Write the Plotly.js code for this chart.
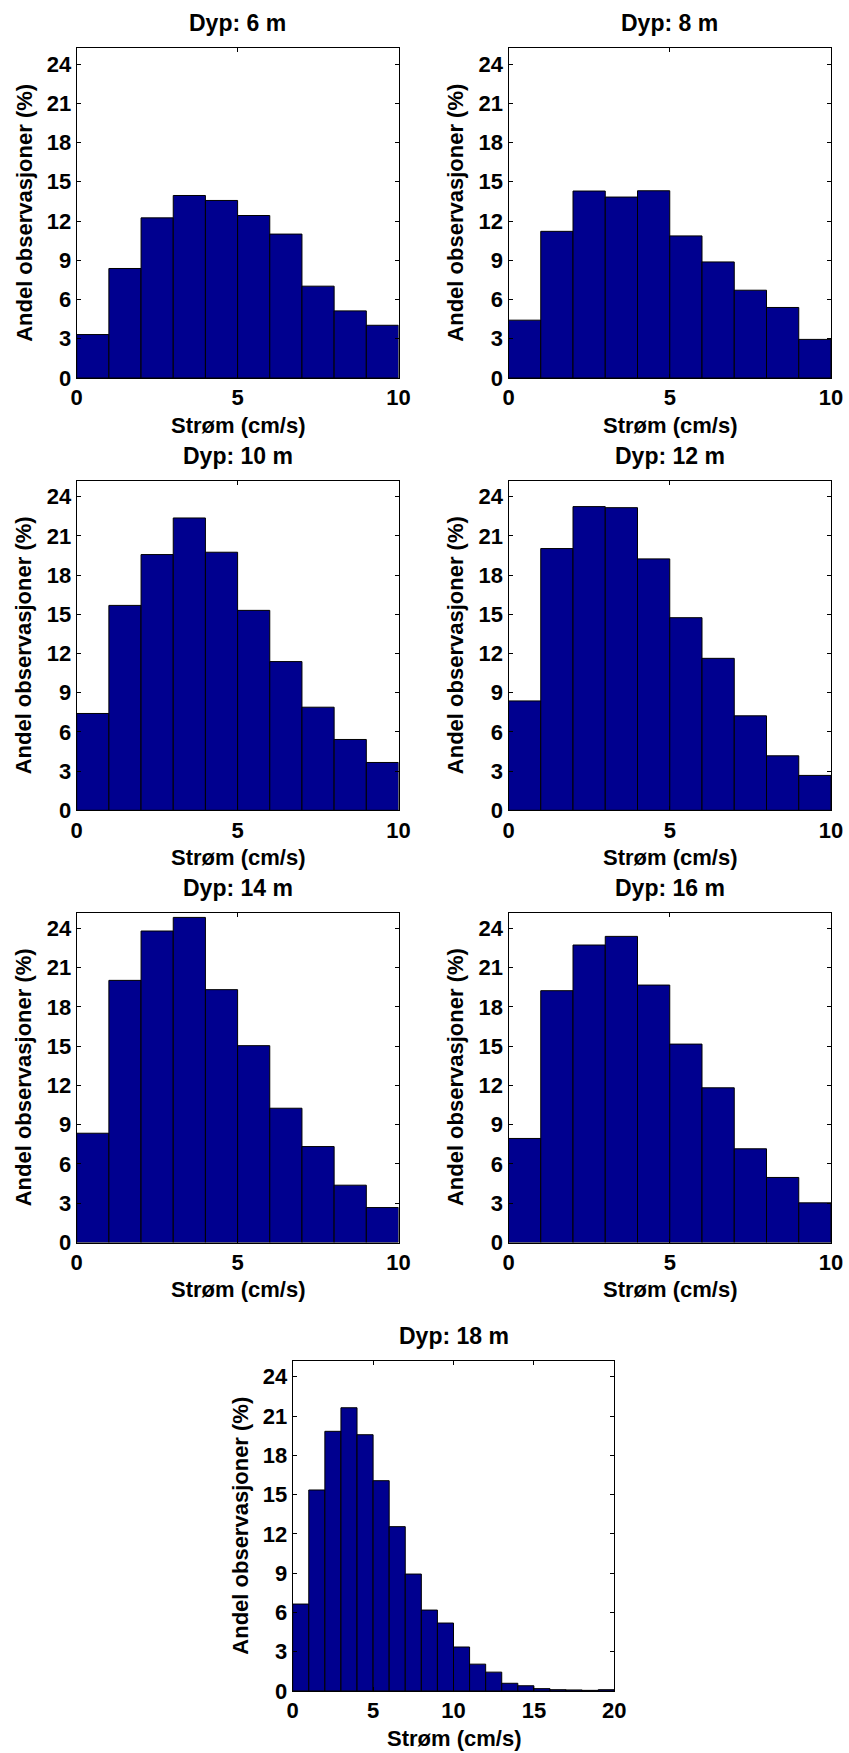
<!DOCTYPE html>
<html>
<head>
<meta charset="utf-8">
<script src="https://cdn.plot.ly/plotly-3.0.1.min.js"></script>
<style>
  html, body { margin: 0; padding: 0; background: #ffffff; }
  #chart { width: 849px; height: 1753px; }
</style>
</head>
<body>
<div id="chart"></div>
<script>
// ---- data ----
const binCenters10 = [0.5, 1.5, 2.5, 3.5, 4.5, 5.5, 6.5, 7.5, 8.5, 9.5];
const binCenters20 = [0.5, 1.5, 2.5, 3.5, 4.5, 5.5, 6.5, 7.5, 8.5, 9.5,
                      10.5, 11.5, 12.5, 13.5, 14.5, 15.5, 16.5, 17.5, 18.5, 19.5];

const dyp6  = [3.32, 8.37, 12.24, 13.95, 13.57, 12.42, 11.00, 7.02, 5.13, 4.03];
const dyp8  = [4.42, 11.21, 14.29, 13.83, 14.31, 10.86, 8.87, 6.71, 5.39, 2.95];
const dyp10 = [7.41, 15.68, 19.57, 22.37, 19.75, 15.30, 11.38, 7.89, 5.42, 3.66];
const dyp12 = [8.37, 20.03, 23.24, 23.16, 19.24, 14.74, 11.63, 7.23, 4.17, 2.67];
const dyp14 = [8.35, 20.03, 23.80, 24.84, 19.32, 15.04, 10.26, 7.33, 4.38, 2.67];
const dyp16 = [7.95, 19.24, 22.73, 23.39, 19.67, 15.16, 11.82, 7.16, 4.97, 3.03];
const dyp18 = [6.64, 15.35, 19.83, 21.63, 19.57, 16.06, 12.55, 8.93, 6.18, 5.19,
               3.36, 2.05, 1.44, 0.59, 0.40, 0.18, 0.10, 0.08, 0.05, 0.10];

const panelTitles = ['Dyp: 6 m', 'Dyp: 8 m', 'Dyp: 10 m', 'Dyp: 12 m',
                     'Dyp: 14 m', 'Dyp: 16 m', 'Dyp: 18 m'];
const xLabel = 'Strøm (cm/s)';
const yLabel = 'Andel observasjoner (%)';
const yTicks = [0, 3, 6, 9, 12, 15, 18, 21, 24];
const xTicks10 = [0, 5, 10];
const xTicks20 = [0, 5, 10, 15, 20];

// ---- layout geometry (pixels) ----
const W = 849, H = 1753;
const panels = [
  {x0: 76.7,  x1: 398.5, y0: 48.3,  y1: 378.0, xs: binCenters10, ys: dyp6,  xmax: 10, ticks: xTicks10},
  {x0: 508.5, x1: 831.0, y0: 48.3,  y1: 378.0, xs: binCenters10, ys: dyp8,  xmax: 10, ticks: xTicks10},
  {x0: 76.7,  x1: 398.5, y0: 481.0, y1: 810.3, xs: binCenters10, ys: dyp10, xmax: 10, ticks: xTicks10},
  {x0: 508.5, x1: 831.0, y0: 481.0, y1: 810.3, xs: binCenters10, ys: dyp12, xmax: 10, ticks: xTicks10},
  {x0: 76.7,  x1: 398.5, y0: 912.7, y1: 1242.5, xs: binCenters10, ys: dyp14, xmax: 10, ticks: xTicks10},
  {x0: 508.5, x1: 831.0, y0: 912.7, y1: 1242.5, xs: binCenters10, ys: dyp16, xmax: 10, ticks: xTicks10},
  {x0: 292.7, x1: 614.3, y0: 1361.0, y1: 1691.0, xs: binCenters20, ys: dyp18, xmax: 20, ticks: xTicks20}
];

const FONT = 'Liberation Sans, Arial, Helvetica, sans-serif';
const barColor = '#00008f';

const traces = [];
const layout = {
  width: W, height: H,
  margin: {l: 0, r: 0, t: 0, b: 0},
  paper_bgcolor: '#ffffff',
  plot_bgcolor: '#ffffff',
  showlegend: false,
  bargap: 0,
  font: {family: FONT, size: 22, color: '#000000', weight: 'bold'},
  annotations: []
};

panels.forEach((p, i) => {
  const n = i === 0 ? '' : String(i + 1);
  traces.push({
    type: 'bar',
    x: p.xs,
    y: p.ys,
    width: 1,
    xaxis: 'x' + n,
    yaxis: 'y' + n,
    marker: {color: barColor, line: {color: '#000000', width: 1}},
    hoverinfo: 'x+y'
  });
  const axCommon = {
    showgrid: false, zeroline: false,
    showline: true, linecolor: '#000000', linewidth: 1, mirror: 'ticks',
    ticks: 'inside', ticklen: 4, tickwidth: 1, tickcolor: '#000000',
    tickfont: {family: FONT, size: 22, color: '#000000', weight: 'bold'},
    fixedrange: true
  };
  layout['xaxis' + n] = Object.assign({}, axCommon, {
    domain: [p.x0 / W, p.x1 / W],
    anchor: 'y' + n,
    range: [0, p.xmax],
    tickmode: 'array', tickvals: p.ticks, ticktext: p.ticks.map(String)
  });
  layout['yaxis' + n] = Object.assign({}, axCommon, {
    domain: [1 - p.y1 / H, 1 - p.y0 / H],
    anchor: 'x' + n,
    range: [0, 25.2],
    tickmode: 'array', tickvals: yTicks, ticktext: yTicks.map(String)
  });
  const cx = (p.x0 + p.x1) / 2;
  const cy = (p.y0 + p.y1) / 2;
  // panel title
  layout.annotations.push({
    text: panelTitles[i], xref: 'paper', yref: 'paper',
    x: cx / W, y: 1 - (p.y0 - 25) / H, xanchor: 'center', yanchor: 'middle',
    showarrow: false, font: {family: FONT, size: 23, color: '#000000', weight: 'bold'}
  });
  // x label
  layout.annotations.push({
    text: xLabel, xref: 'paper', yref: 'paper',
    x: cx / W, y: 1 - (p.y1 + 47) / H, xanchor: 'center', yanchor: 'middle',
    showarrow: false, font: {family: FONT, size: 22, color: '#000000', weight: 'bold'}
  });
  // y label
  layout.annotations.push({
    text: yLabel, xref: 'paper', yref: 'paper', textangle: -90,
    x: (p.x0 - 53) / W, y: 1 - cy / H, xanchor: 'center', yanchor: 'middle',
    showarrow: false, font: {family: FONT, size: 22, color: '#000000', weight: 'bold'}
  });
});

Plotly.newPlot('chart', traces, layout, {staticPlot: true, displayModeBar: false});
</script>
</body>
</html>
